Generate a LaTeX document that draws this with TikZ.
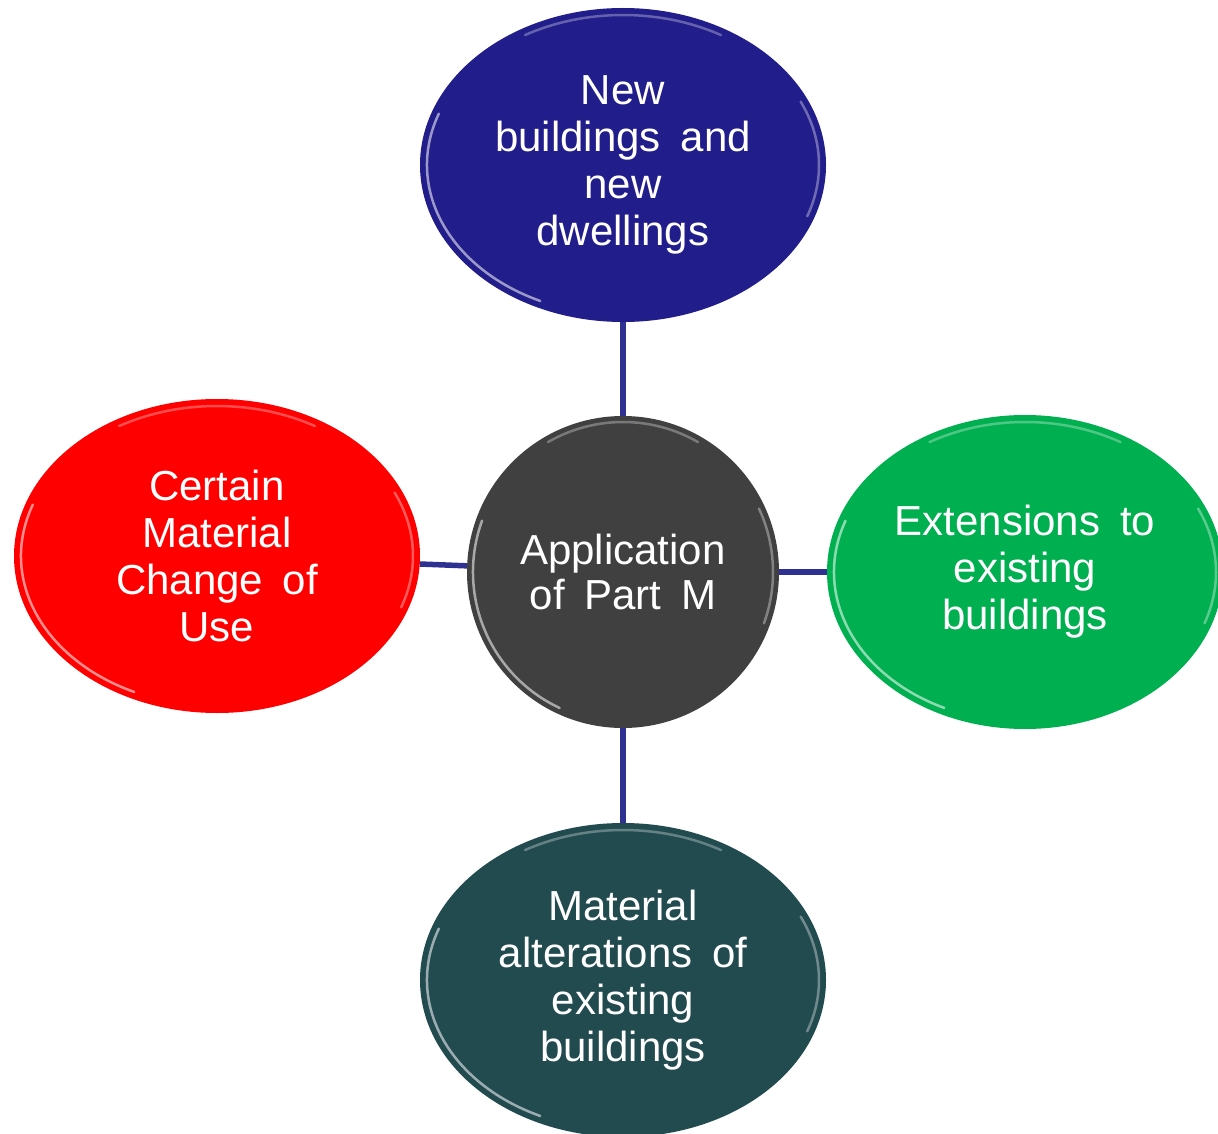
\documentclass[tikz,border=0pt]{standalone}
\usepackage{fontspec}
\setmainfont{Liberation Sans}[WordSpace=1.7]
\usetikzlibrary{shapes.geometric}
\definecolor{cblue}{RGB}{33,29,138}
\definecolor{cgray}{RGB}{64,64,64}
\definecolor{cred}{RGB}{255,0,0}
\definecolor{cgreen}{RGB}{0,176,80}
\definecolor{cteal}{RGB}{34,75,80}
\definecolor{cline}{RGB}{46,49,146}
\tikzset{
  bubble/.style={ellipse, draw=none, inner sep=0pt, minimum width=406pt, minimum height=314pt,
    text=white, align=center, font=\fontsize{42}{47}\selectfont},
  hub/.style={circle, draw=none, inner sep=0pt, minimum size=312pt, fill=cgray,
    text=white, align=center, font=\fontsize{42}{45}\selectfont},
  conn/.style={draw=cline, line width=5.5pt},
  rim/.style={draw=white, line width=2.5pt, opacity=0.55, line cap=round},
}
\newcommand{\glossrim}[3]{%
  \draw[rim] ([shift={(115:#2 and #3)}]#1.center) arc[start angle=115,end angle=200,x radius=#2,y radius=#3];
  \draw[rim,opacity=0.3] ([shift={(240:#2 and #3)}]#1.center) arc[start angle=240,end angle=300,x radius=#2,y radius=#3];
  \draw[rim,opacity=0.35] ([shift={(-25:#2 and #3)}]#1.center) arc[start angle=-25,end angle=20,x radius=#2,y radius=#3];
}
\begin{document}
\begin{tikzpicture}[x=1pt,y=-1pt]
\useasboundingbox[fill=white] (0,0) rectangle (1218,1134);
\node[bubble, fill=cblue] (top) at (623,165) {New\\buildings and\\new\\dwellings};
\node[hub] (ctr) at (623,572) {Application\\of Part M};
\node[bubble, fill=cred] (left) at (217,556) {Certain\\Material\\Change of\\Use};
\node[bubble, fill=cgreen, minimum width=396pt] (right) at (1025,572) {Extensions to\\existing\\buildings};
\node[bubble, fill=cteal] (bot) at (623,980) {Material\\alterations of\\existing\\buildings};
\glossrim{top}{196}{150}
\glossrim{left}{196}{150}
\glossrim{right}{191}{150}
\glossrim{bot}{196}{150}
\glossrim{ctr}{150}{150}
\draw[conn] (top) -- (ctr);
\draw[conn] (left) -- (ctr);
\draw[conn] (ctr) -- (right);
\draw[conn] (ctr) -- (bot);
\end{tikzpicture}
\end{document}
